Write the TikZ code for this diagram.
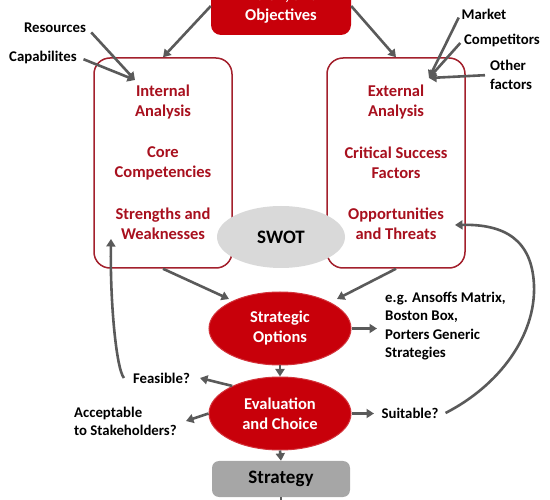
\documentclass[tikz,border=0pt]{standalone}
\usepackage{fontspec}
\setmainfont{Carlito}
\usetikzlibrary{arrows.meta,shapes.geometric}
\definecolor{myred}{HTML}{C8000A}
\definecolor{boxred}{HTML}{A3202C}
\definecolor{txtred}{HTML}{A8101E}
\definecolor{arrgray}{HTML}{5A5A5A}
\definecolor{swotgray}{HTML}{D9D9D9}
\definecolor{stratgray}{HTML}{A6A6A6}
\tikzset{
  conn/.style={draw=arrgray, line width=2.6pt, -{Triangle[length=7.5pt,width=9pt]}},
  anabox/.style={draw=boxred, line width=1.5pt, rounded corners=16pt, fill=white, minimum width=138pt, minimum height=210pt},
  anatext/.style={text=txtred, font=\fontsize{16.5}{20}\selectfont\bfseries, align=center},
  redell/.style={ellipse, fill=myred, draw=myred!80!white, line width=1pt, minimum width=142pt, minimum height=73pt, text=white, font=\fontsize{16.5}{20}\selectfont\bfseries, align=center, inner sep=0pt},
  lbl/.style={font=\fontsize{14.8}{18.4}\selectfont\bfseries, text=black, inner sep=1pt},
}
\begin{document}
\begin{tikzpicture}[x=1pt,y=-1pt]
\useasboundingbox (0,0) rectangle (550,500);
\clip (0,0) rectangle (550,500);
% top box
\node[fill=myred, rounded corners=10pt, minimum width=140pt, minimum height=58pt, text=white, font=\fontsize{16.5}{20}\selectfont\bfseries, align=center] (vision) at (281,6) {Vision, and\\Objectives};
% analysis boxes
\node[anabox] (int) at (163,163) {};
\node[anabox] (ext) at (396,163) {};
\node[anatext] (intA) at (163,102) {Internal\\Analysis};
\node[anatext] (intB) at (163,163) {Core\\Competencies};
\node[anatext] (intC) at (163,224) {Strengths and\\Weaknesses};
\node[anatext] (extA) at (396,102) {External\\Analysis};
\node[anatext] (extB) at (396,163) {Critical Success\\Factors};
\node[anatext] (extC) at (396,224) {Opportunities\\and Threats};
% SWOT
\node[ellipse, fill=swotgray, minimum width=128pt, minimum height=62pt, font=\fontsize{19}{20}\selectfont\bfseries, inner sep=0pt] (swot) at (281,237) {SWOT};
% ellipses
\node[redell] (opt) at (280,328.5) {Strategic\\Options};
\node[redell] (eval) at (280,413.5) {Evaluation\\and Choice};
\node[fill=stratgray, rounded corners=7pt, minimum width=138pt, minimum height=36pt, font=\fontsize{19}{20}\selectfont\bfseries] (strat) at (281,479) {Strategy};
% labels
\node[lbl] (res) at (55,28) {Resources};
\node[lbl] (cap) at (43,57) {Capabilites};
\node[lbl] (mkt) at (484,14) {Market};
\node[lbl] (comp) at (502,40) {Competitors};
\node[lbl, align=left, anchor=west] (oth) at (489,75) {Other\\factors};
\node[lbl, align=left, anchor=north west] (eg) at (384,291) {e.g. Ansoffs Matrix,\\Boston Box,\\Porters Generic\\Strategies};
\node[lbl] (feas) at (161.5,378) {Feasible?};
\node[lbl, align=left, anchor=west] (acc) at (73,421.5) {Acceptable\\to Stakeholders?};
\node[lbl] (suit) at (410,413) {Suitable?};
% coordinates
\coordinate (intin) at (135,80);
\coordinate (extin) at (429,78);
\coordinate (swin) at (111,239);
\coordinate (otin) at (455,225);
\coordinate (optL) at (229,299);
\coordinate (optR) at (337,299);
\coordinate (egin) at (377,328.5);
\coordinate (suitin) at (374,413.5);
\coordinate (feasin) at (200,378);
\coordinate (accin) at (186,421);
\coordinate (below) at (281,515);
% connectors
\draw[conn] (vision.west) -- (int.north);
\draw[conn] (vision.east) -- (ext.north);
\draw[conn, shorten <=6pt] (res.east) -- (intin);
\draw[conn, shorten <=6pt] (cap.east) -- (intin);
\draw[conn, shorten <=4pt] (mkt.west) -- (extin);
\draw[conn, shorten <=4pt] (comp.west) -- (extin);
\draw[conn, shorten <=4pt] (oth.west) -- (extin);
\draw[conn] (int.south) -- (optL);
\draw[conn] (ext.south) -- (optR);
\draw[conn] (opt.east) -- (egin);
\draw[conn] (opt.south) -- (eval.north);
\draw[conn] (eval.south) -- (strat.north);
\draw[conn] (strat.south) -- (below);
\draw[conn] (eval.150) -- (feasin);
\draw[conn] (eval.west) -- (accin);
\draw[conn] (eval.east) -- (suitin);
\draw[conn] ([xshift=-8pt]feas.west) .. controls (116,368) and (110,300) .. (swin);
\draw[conn] ([xshift=6pt]suit.east) .. controls (500,385) and (536,335) .. (534,285) .. controls (532,240) and (505,224) .. (otin);
\end{tikzpicture}
\end{document}
